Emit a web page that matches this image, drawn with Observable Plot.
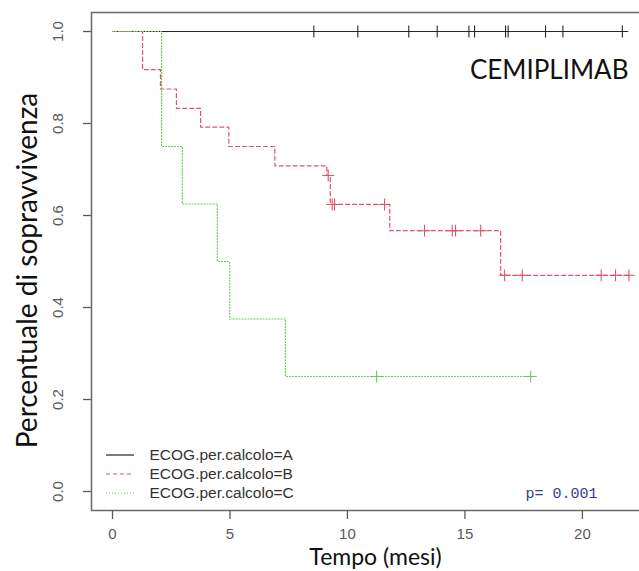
<!DOCTYPE html>
<html>
<head>
<meta charset="utf-8">
<script src="https://cdn.jsdelivr.net/npm/d3@7"></script>
<script src="https://cdn.jsdelivr.net/npm/@observablehq/plot@0.6"></script>
<style>
  body { margin: 0; background: #fff; }
  #chart { width: 639px; height: 571px; }
</style>
</head>
<body>
<div id="chart"></div>
<script>
// Kaplan–Meier survival by ECOG class (time in months)
const groupNames = ["ECOG.per.calcolo=A", "ECOG.per.calcolo=B", "ECOG.per.calcolo=C"];
const groupColors = ["#262626", "#DF536B", "#61D04F"];
const groupDash = [null, "4,3", "1,2"];

// step points (time, survival) per group
const timeA = [0, 21.7];
const survA = [1, 1];
const timeB = [0, 1.28, 2.04, 2.72, 3.75, 4.95, 6.91, 9.12, 9.27, 11.8, 16.52, 21.98];
const survB = [1, 0.917, 0.875, 0.833, 0.792, 0.75, 0.708, 0.687, 0.624, 0.567, 0.47, 0.47];
const timeC = [0, 2.09, 2.97, 4.46, 4.99, 7.36, 17.8];
const survC = [1, 0.75, 0.625, 0.5, 0.375, 0.25, 0.25];

// censored observations
const censorTimeA = [8.57, 10.44, 12.61, 13.82, 15.17, 15.41, 16.73, 16.84, 18.43, 19.17, 21.7];
const censorSurvA = [1, 1, 1, 1, 1, 1, 1, 1, 1, 1, 1];
const censorTimeB = [9.18, 9.35, 9.45, 11.58, 13.28, 14.46, 14.6, 15.67, 16.69, 17.44, 20.8, 21.41, 21.98];
const censorSurvB = [0.687, 0.624, 0.624, 0.624, 0.567, 0.567, 0.567, 0.567, 0.47, 0.47, 0.47, 0.47, 0.47];
const censorTimeC = [11.24, 17.8];
const censorSurvC = [0.25, 0.25];

const xTicks = [0, 5, 10, 15, 20];
const yTicks = [0, 0.2, 0.4, 0.6, 0.8, 1.0];
const xDomain = [-0.894, 22.43];
const yDomain = [-0.0413, 1.0413];

const pLabel = "p= 0.001";
const panelTitle = "CEMIPLIMAB";
const xTitle = "Tempo (mesi)";
const yTitle = "Percentuale di sopravvivenza";

const toRows = (t, s) => t.map((d, i) => ({time: d, surv: s[i]}));
const steps = [toRows(timeA, survA), toRows(timeB, survB), toRows(timeC, survC)];
const censors = [toRows(censorTimeA, censorSurvA), toRows(censorTimeB, censorSurvB), toRows(censorTimeC, censorSurvC)];

const axisGray = "#5a5a5a";
const sans = "'Liberation Sans', Arial, sans-serif";
const bigFont = "Lato, 'Open Sans', sans-serif";

const marks = [];
// box (left, top, bottom edges)
marks.push(Plot.ruleX([xDomain[0]], {stroke: "#6a6a6a", strokeWidth: 1.5}));
marks.push(Plot.ruleY([yDomain[0], yDomain[1]], {stroke: "#6a6a6a", strokeWidth: 1.5}));

// survival curves
steps.forEach((rows, i) => {
  marks.push(Plot.line(rows, {
    x: "time", y: "surv", curve: "step-after",
    stroke: groupColors[i], strokeWidth: 1.2,
    strokeDasharray: groupDash[i] || undefined
  }));
});
// censor marks
censors.forEach((rows, i) => {
  marks.push(Plot.dot(rows, {
    x: "time", y: "surv", symbol: "plus", r: 3.9,
    stroke: groupColors[i], strokeWidth: 1.1
  }));
});

// axes
marks.push(Plot.axisX({ticks: xTicks, tickSize: 9, stroke: axisGray, strokeWidth: 1.3, fill: "none"}));
marks.push(Plot.axisY({ticks: yTicks, tickSize: 8, stroke: axisGray, strokeWidth: 1.3, fill: "none"}));
marks.push(Plot.text(xTicks, {
  x: d => d, frameAnchor: "bottom", dy: 24, text: d => String(d),
  fontSize: 15, fill: axisGray, lineAnchor: "middle", fontFamily: sans
}));
marks.push(Plot.text(yTicks, {
  y: d => d, frameAnchor: "left", dx: -33, rotate: -90, text: d => d3.format(".1f")(d),
  fontSize: 15, fill: axisGray, lineAnchor: "middle", textAnchor: "middle", fontFamily: sans
}));

// titles
marks.push(Plot.text([xTitle], {
  text: d => d, frameAnchor: "bottom", dx: 10, dy: 47, fontSize: 23,
  fill: "#111", lineAnchor: "middle", fontFamily: bigFont
}));
marks.push(Plot.text([yTitle], {
  text: d => d, frameAnchor: "left", dx: -63, dy: 9, rotate: -90, fontSize: 28,
  fill: "#111", lineAnchor: "middle", textAnchor: "middle", fontFamily: bigFont
}));
marks.push(Plot.text([panelTitle], {
  text: d => d, frameAnchor: "top-right", dx: -11, dy: 58, fontSize: 26,
  fill: "#111", lineAnchor: "middle", textAnchor: "end", fontFamily: bigFont
}));
marks.push(Plot.text([pLabel], {
  text: d => d, frameAnchor: "bottom-left", dx: 434, dy: -17, fontSize: 15,
  fill: "#3c3c8c", lineAnchor: "middle", textAnchor: "start", fontFamily: "'Liberation Mono', 'DejaVu Sans Mono', monospace"
}));

// legend labels
groupNames.forEach((name, i) => {
  marks.push(Plot.text([name], {
    text: d => d, frameAnchor: "bottom-left", dx: 58, dy: -55 + i * 19,
    fontSize: 15.5, fill: "#333", lineAnchor: "middle", textAnchor: "start", fontFamily: sans
  }));
});

const chart = Plot.plot({
  width: 639, height: 571,
  marginLeft: 91, marginRight: 0, marginTop: 12, marginBottom: 61,
  x: {domain: xDomain},
  y: {domain: yDomain},
  style: {background: "#fff", fontFamily: sans, overflow: "visible"},
  marks
});

// legend line samples, placed relative to the plot frame
const svg = d3.select(chart);
const frameLeft = 91, frameBottom = 571 - 61;
const legend = svg.append("g").attr("class", "legend-keys");
groupNames.forEach((name, i) => {
  const y = frameBottom - 55 + i * 19;
  legend.append("line")
    .attr("x1", frameLeft + 15).attr("x2", frameLeft + 43)
    .attr("y1", y).attr("y2", y)
    .attr("stroke", groupColors[i]).attr("stroke-width", 1.2)
    .attr("stroke-dasharray", groupDash[i]);
});

document.getElementById("chart").append(chart);
</script>
</body>
</html>
